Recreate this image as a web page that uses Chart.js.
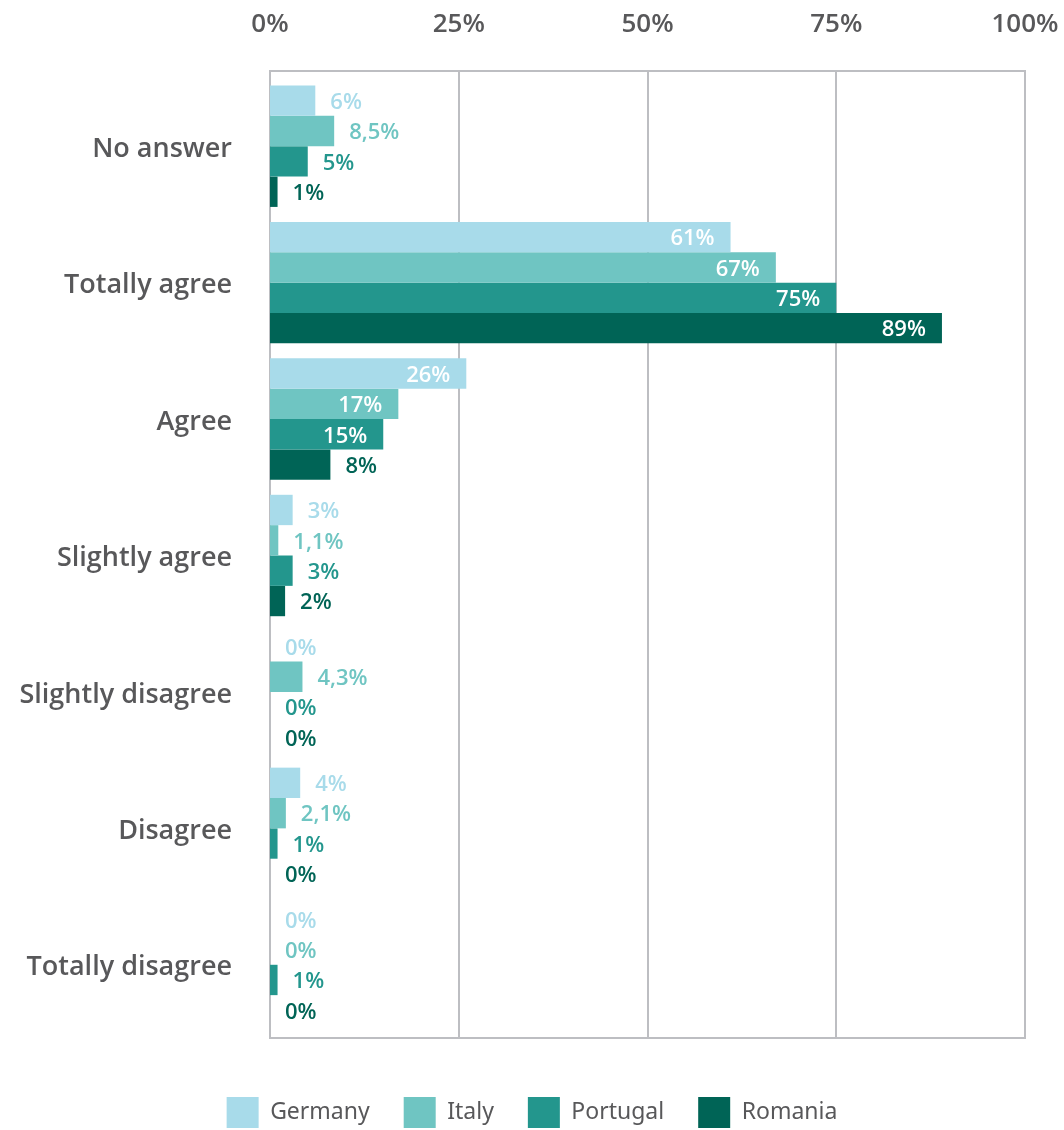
<!DOCTYPE html>
<html>
<head>
<meta charset="utf-8">
<script src="https://cdn.jsdelivr.net/npm/chart.js@4.4.1/dist/chart.umd.min.js"></script>
<style>
  html, body { margin: 0; padding: 0; background: #ffffff; }
  #wrap { width: 1064px; height: 1130px; position: relative; }
</style>
</head>
<body>
<div id="wrap"><canvas id="chart" width="1064" height="1130"></canvas></div>
<script>
// Survey answers, share of respondents per country (%)
const categories = ['No answer', 'Totally agree', 'Agree', 'Slightly agree', 'Slightly disagree', 'Disagree', 'Totally disagree'];
const seriesNames = ['Germany', 'Italy', 'Portugal', 'Romania'];
const germany  = [6, 61, 26, 3, 0, 4, 0];
const italy    = [8.5, 67, 17, 1.1, 4.3, 2.1, 0];
const portugal = [5, 75, 15, 3, 0, 1, 1];
const romania  = [1, 89, 8, 2, 0, 0, 0];
const xTickValues = [0, 25, 50, 75, 100];

const seriesColors = ['#a8dbea', '#6fc5c2', '#23968d', '#006456'];
const seriesValues = [germany, italy, portugal, romania];

const textGrey = '#58585a';
const frameGrey = '#bdbec2';
const labelFont = '"Open Sans", "Lato", sans-serif';

function fmtPct(v) {
  return String(v).replace('.', ',') + '%';
}

// Frame and vertical gridlines, extended slightly beyond the category band
const framePlugin = {
  id: 'frame',
  beforeDatasetsDraw(chart) {
    const { ctx, chartArea, scales } = chart;
    const top = chartArea.top - 7;
    const bottom = chartArea.bottom + 5;
    ctx.save();
    ctx.strokeStyle = frameGrey;
    ctx.lineWidth = 2;
    xTickValues.forEach(v => {
      const x = Math.round(scales.x.getPixelForValue(v));
      ctx.beginPath();
      ctx.moveTo(x, top);
      ctx.lineTo(x, bottom);
      ctx.stroke();
    });
    const left = Math.round(scales.x.getPixelForValue(0));
    const right = Math.round(scales.x.getPixelForValue(100));
    ctx.beginPath();
    ctx.moveTo(left - 1, top);
    ctx.lineTo(right + 1, top);
    ctx.moveTo(left - 1, bottom);
    ctx.lineTo(right + 1, bottom);
    ctx.stroke();
    ctx.restore();
  }
};

// Value labels: white inside long bars, bar-coloured after short ones
const valueLabelPlugin = {
  id: 'valueLabels',
  afterDatasetsDraw(chart) {
    const { ctx } = chart;
    ctx.save();
    ctx.font = '600 22px ' + labelFont;
    ctx.textBaseline = 'middle';
    chart.data.datasets.forEach((ds, di) => {
      const meta = chart.getDatasetMeta(di);
      meta.data.forEach((bar, i) => {
        const v = ds.data[i];
        const txt = fmtPct(v);
        const y = bar.y + 2;
        if (v >= 12) {
          ctx.fillStyle = '#ffffff';
          ctx.textAlign = 'right';
          ctx.fillText(txt, bar.x - 16, y);
        } else {
          ctx.fillStyle = ds.backgroundColor;
          ctx.textAlign = 'left';
          ctx.fillText(txt, bar.x + 15, y);
        }
      });
    });
    ctx.restore();
  }
};

new Chart(document.getElementById('chart'), {
  type: 'bar',
  data: {
    labels: categories,
    datasets: seriesNames.map((name, i) => ({
      label: name,
      data: seriesValues[i],
      xAxisID: 'x',
      yAxisID: 'y',
      backgroundColor: seriesColors[i],
      borderWidth: 0,
      barPercentage: 1,
      categoryPercentage: 0.89
    }))
  },
  options: {
    indexAxis: 'y',
    responsive: false,
    animation: false,
    layout: { padding: { left: 0, right: 0, top: 0, bottom: -8 } },
    scales: {
      x: {
        position: 'top',
        min: 0,
        max: 100,
        afterBuildTicks(scale) {
          scale.ticks = xTickValues.map(v => ({ value: v }));
        },
        afterFit(scale) { scale.height = 78; },
        grid: { display: false, drawTicks: true, tickLength: 38 },
        border: { display: false },
        ticks: {
          callback: v => v + '%',
          color: textGrey,
          font: { family: labelFont, size: 26, weight: '600' },
          padding: 0,
          maxRotation: 0
        }
      },
      // empty band between the plot and the legend
      gap: {
        type: 'linear',
        position: 'bottom',
        afterFit(scale) { scale.height = 30; },
        grid: { display: false },
        border: { display: false },
        ticks: { display: false }
      },
      // empty margin right of the plot
      gapRight: {
        type: 'linear',
        position: 'right',
        afterFit(scale) { scale.width = 39; },
        grid: { display: false },
        border: { display: false },
        ticks: { display: false }
      },
      y: {
        type: 'category',
        position: 'left',
        afterFit(scale) { scale.width = 270; },
        grid: { display: false, drawTicks: true, tickLength: 38 },
        border: { display: false },
        ticks: {
          color: textGrey,
          font: { family: labelFont, size: 27, weight: '600' },
          padding: 0,
          labelOffset: 3
        }
      }
    },
    plugins: {
      legend: {
        position: 'bottom',
        labels: {
          boxWidth: 32,
          boxHeight: 31,
          padding: 34,
          color: textGrey,
          font: { family: '"Noto Sans", sans-serif', size: 23 }
        }
      },
      tooltip: { enabled: false }
    }
  },
  plugins: [framePlugin, valueLabelPlugin]
});
</script>
</body>
</html>
